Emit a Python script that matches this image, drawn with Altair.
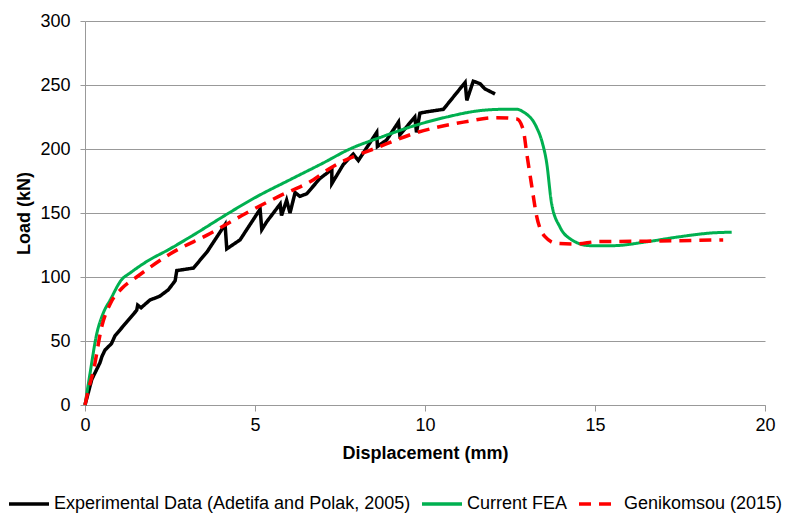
import altair as alt
import pandas as pd

SERIES = ["Experimental Data (Adetifa and Polak, 2005)", "Current FEA", "Genikomsou (2015)"]
COLORS = ["#000000", "#00B050", "#FF0000"]
DASHES = [[1, 0], [1, 0], [12, 8]]

exp_x = [0, 0.2, 0.44, 0.5, 0.59, 0.78, 0.88, 1.2, 1.52, 1.55, 1.65, 1.91, 2.2, 2.45, 2.65, 2.7,
         3.19, 3.6, 4.12, 4.17, 4.56, 5.15, 5.2, 5.34, 5.74, 5.78, 5.93, 6.03, 6.18, 6.32, 6.52,
         6.91, 7.26, 7.26, 7.6, 7.89, 8.04, 8.58, 8.6, 8.87, 9.22, 9.26, 9.7, 9.75, 9.85, 10.04,
         10.54, 11.18, 11.23, 11.42, 11.62, 11.76, 12.06]
exp_y = [0, 20, 33, 38, 43, 48, 54, 64, 74, 78, 76, 82, 85, 90, 97, 105,
         107, 120, 141, 122, 129, 153, 137, 143, 157, 148, 160, 150, 166, 163, 165,
         177, 184, 173, 188, 196, 191, 213, 202, 207, 221, 211, 225, 213, 228, 229,
         231, 252, 238, 253, 251, 247, 243]

fea_x = [0, 0.15, 0.34, 0.54, 0.74, 1.08, 1.32, 1.81, 2.5, 3.2, 4.17, 5.0, 6.03, 7.0, 7.79, 8.68,
         9.66, 10.64, 11.62, 12.3, 12.7, 12.89, 13.28, 13.45, 13.58, 13.72, 13.97, 14.26,
         14.85, 15.54, 16.52, 17.5, 18.48, 19.02]
fea_y = [0, 25, 55, 72, 82, 98, 103, 112, 122, 133, 149, 162, 176, 189, 200, 209,
         218, 225, 230, 231, 231, 229, 217, 205, 189, 158, 139, 130,
         124.5, 124.5, 127.5, 131.5, 134.5, 135]

gen_x = [0, 0.1, 0.25, 0.49, 0.74, 1.08, 1.52, 2.5, 3.68, 4.75, 5.7, 6.72, 7.21, 8.68, 9.66,
         11.13, 12.1, 12.7, 12.89, 12.99, 13.14, 13.28, 13.53, 13.87, 14.46, 15.05, 16.52, 18.77]
gen_y = [0, 12, 27, 61, 79, 91, 100, 118, 134, 150, 163, 176, 185, 202, 212,
         221, 224.5, 223.5, 215, 197, 171, 148, 131.5, 126.3, 125.8, 127.6, 128, 129]


def frame(name, xs, ys):
    return pd.DataFrame({"series": name, "x": xs, "y": ys, "idx": range(len(xs))})


dfs = [frame(SERIES[0], exp_x, exp_y), frame(SERIES[1], fea_x, fea_y), frame(SERIES[2], gen_x, gen_y)]

FONT = "Liberation Sans"

xenc = alt.X("x:Q", scale=alt.Scale(domain=[0, 20], nice=False),
             axis=alt.Axis(title="Displacement (mm)", values=[0, 5, 10, 15, 20], grid=False,
                           tickSize=6, labelPadding=5, titlePadding=10, labelFlush=False))
yenc = alt.Y("y:Q", scale=alt.Scale(domain=[0, 300], nice=False),
             axis=alt.Axis(title="Load (kN)", values=[0, 50, 100, 150, 200, 250, 300], grid=True,
                           tickSize=5, labelPadding=10, titlePadding=6, labelFlush=False))
color = alt.Color("series:N", scale=alt.Scale(domain=SERIES, range=COLORS),
                  legend=alt.Legend(title=None, orient="none", direction="horizontal",
                                    legendX=-78, legendY=461, symbolType="stroke",
                                    symbolSize=1600, symbolStrokeWidth=3.5, labelOffset=3,
                                    columnPadding=4, labelFontSize=18, labelFont=FONT,
                                    labelColor="#000", labelLimit=0))
dash = alt.StrokeDash("series:N", scale=alt.Scale(domain=SERIES, range=DASHES), legend=None)

layers = []
for i, d in enumerate(dfs):
    interp = "linear" if i == 0 else "monotone"
    layers.append(
        alt.Chart(d).mark_line(strokeWidth=3.5 if i != 1 else 3, interpolate=interp)
        .encode(x=xenc, y=yenc, color=color, strokeDash=dash, order="idx:Q")
    )

chart = alt.layer(*layers).properties(
    width=680, height=384,
    autosize=alt.AutoSizeParams(type="none"),
    padding={"left": 85, "top": 21, "right": 23, "bottom": 110},
).configure(background="white").configure_view(stroke=None).configure_axis(
    labelFont=FONT, titleFont=FONT, labelFontSize=18, titleFontSize=18,
    labelColor="#000", titleColor="#000", titleFontWeight="bold",
    domainColor="#999", tickColor="#999", gridColor="#999", gridWidth=1,
)

chart.save("out.html", embed_options={"renderer": "svg", "actions": False})
